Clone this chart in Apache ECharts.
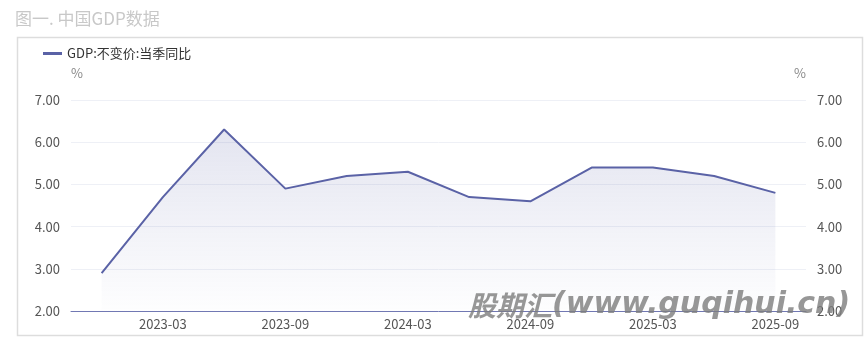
<!DOCTYPE html>
<html>
<head>
<meta charset="utf-8">
<script src="https://cdn.jsdelivr.net/npm/echarts@6/dist/echarts.min.js"></script>
<style>
html,body{margin:0;padding:0;background:#fff;}
#c{width:868px;height:339px;}
</style>
</head>
<body>
<div id="c"></div>
<script>
const categories = ['2022-12','2023-03','2023-06','2023-09','2023-12','2024-03','2024-06','2024-09','2024-12','2025-03','2025-06','2025-09'];
const gdpValues = [2.9, 4.7, 6.3, 4.9, 5.2, 5.3, 4.7, 4.6, 5.4, 5.4, 5.2, 4.8];
const seriesName = 'GDP:不变价:当季同比';
const titleText = '图一. 中国GDP数据';
const yMin = 2, yMax = 7, yStep = 1;

const chart = echarts.init(document.getElementById('c'), null, {renderer: 'canvas'});
const font = '"Noto Sans CJK SC", "Noto Sans", sans-serif';
const lineColor = '#5a62a6';
chart.setOption({
  animation: false,
  textStyle: {fontFamily: font},
  title: {
    text: titleText, left: 10, top: 5,
    textStyle: {color: '#c8c8c8', fontSize: 17, fontWeight: 'normal', fontFamily: font}
  },
  graphic: [
    {type: 'rect', shape: {x: 17.5, y: 37.5, width: 845, height: 298}, style: {fill: 'none', stroke: '#dddddd', lineWidth: 1.5}, z: -1},
    {type: 'text', left: 468, top: 290, z: 100, style: {
      text: '{a|股期汇}{b|(www.guqihui.cn)}',
      rich: {
        a: {fontSize: 28, fontWeight: 'bold', fontStyle: 'italic', fontFamily: '"Noto Sans CJK SC"', fill: 'rgba(125,125,125,0.8)'},
        b: {fontSize: 30, fontWeight: 'bold', fontStyle: 'italic', fontFamily: '"DejaVu Sans"', fill: 'rgba(125,125,125,0.8)'}
      }
    }}
  ],
  legend: {
    left: 38, top: 42, itemWidth: 19, itemHeight: 3, icon: 'rect', itemGap: 6,
    textStyle: {color: '#333', fontSize: 13, fontFamily: font},
    data: [{name: seriesName}]
  },
  grid: {left: 71, right: 62, top: 100, bottom: 28, containLabel: false},
  xAxis: {
    type: 'category', data: categories, boundaryGap: true,
    axisLine: {lineStyle: {color: '#7178b3', width: 1}},
    axisTick: {show: false},
    axisLabel: {color: '#555', fontSize: 13, margin: 7, interval: function (i) { return i % 2 === 1; }},
    splitLine: {show: false}
  },
  yAxis: [
    {type: 'value', min: yMin, max: yMax, interval: yStep, position: 'left',
     name: '%', nameGap: 20, nameTextStyle: {color: '#888', fontSize: 13, align: 'left'},
     axisLine: {show: false}, axisTick: {show: false},
     axisLabel: {color: '#555', fontSize: 13, margin: 11, formatter: v => v.toFixed(2)},
     splitLine: {lineStyle: {color: '#eef0f6'}}},
    {type: 'value', min: yMin, max: yMax, interval: yStep, position: 'right',
     name: '%', nameGap: 20, nameTextStyle: {color: '#888', fontSize: 13, align: 'right'},
     axisLine: {show: false}, axisTick: {show: false},
     axisLabel: {color: '#555', fontSize: 13, margin: 11, formatter: v => v.toFixed(2)},
     splitLine: {show: false}}
  ],
  series: [{
    name: seriesName, type: 'line', data: gdpValues, yAxisIndex: 0,
    symbol: 'none', smooth: false,
    lineStyle: {color: lineColor, width: 2},
    itemStyle: {color: lineColor},
    areaStyle: {
      origin: 'start',
      color: new echarts.graphic.LinearGradient(0, 0, 0, 1, [
        {offset: 0, color: 'rgba(90,98,166,0.24)'},
        {offset: 1, color: 'rgba(90,98,166,0.01)'}
      ])
    }
  }]
});
</script>
</body>
</html>
